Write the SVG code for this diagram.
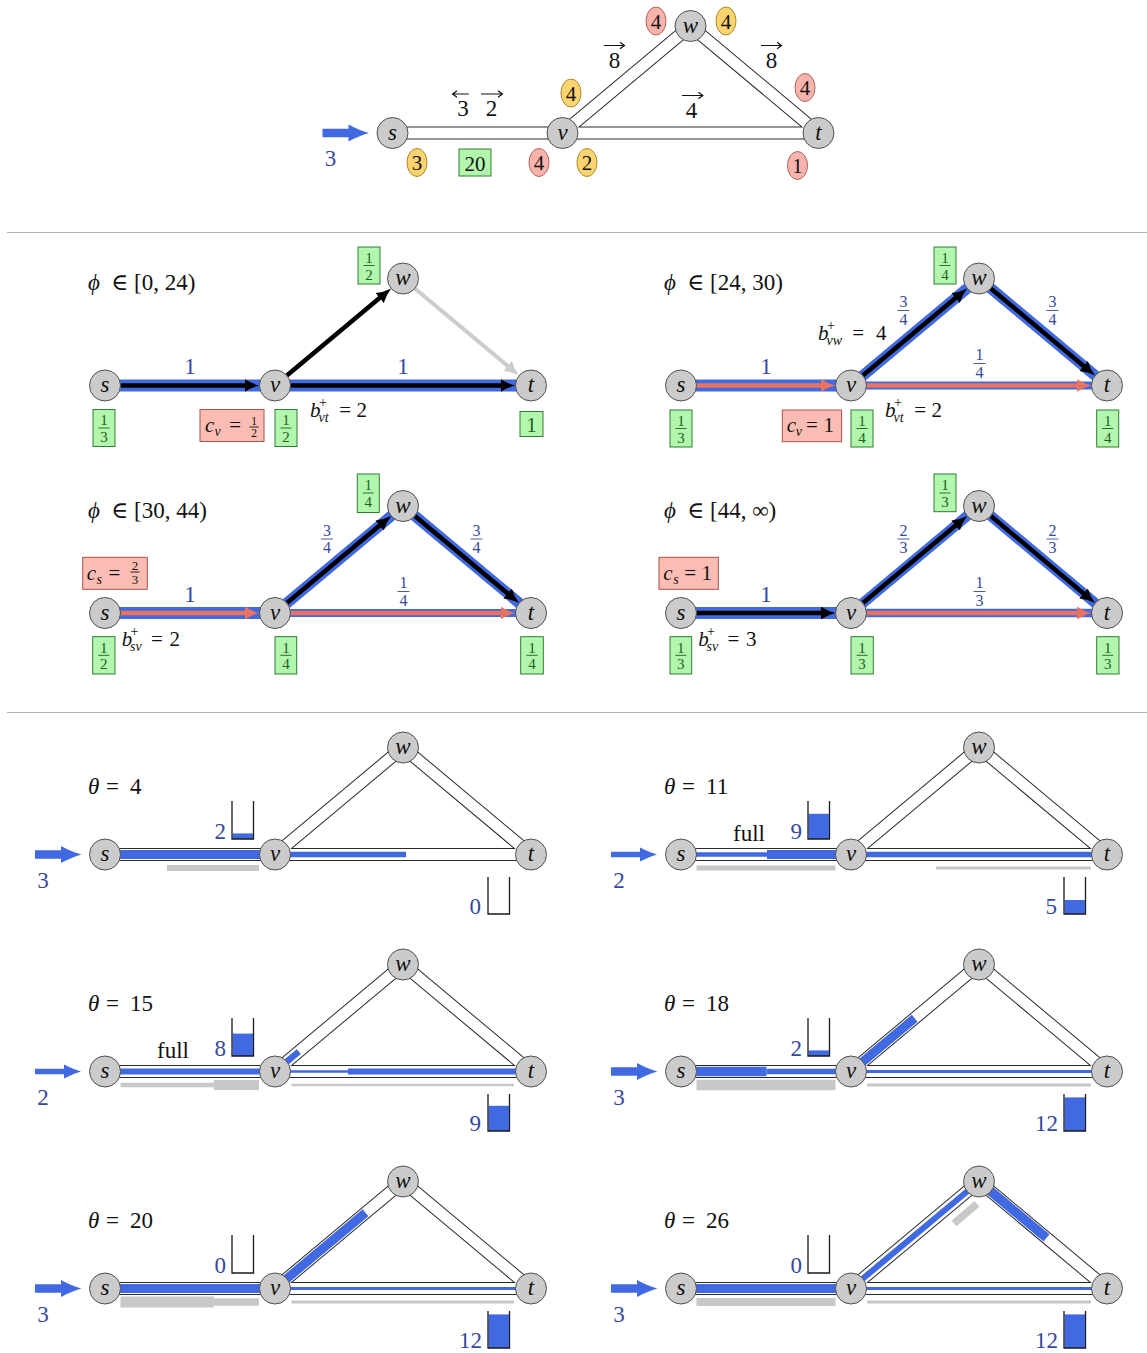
<svg xmlns="http://www.w3.org/2000/svg" width="1147" height="1353" viewBox="0 0 1147 1353">
<defs>
<style>
text{font-family:"Liberation Serif","DejaVu Serif",serif;fill:#111}
.node{fill:#cbcbcb;stroke:#505050;stroke-width:1}
.nl{font-style:italic;font-size:23px;text-anchor:middle}
.i{font-style:italic}
.eo{stroke:#2a2a2a;stroke-width:13;fill:none}
.ei{stroke:#fff;stroke-width:11;fill:none}
.bl{stroke:#4169e1;fill:none}
.gr{stroke:#c8c8c8;fill:none}
.k{stroke:#000;stroke-width:4.5;fill:none;marker-end:url(#ahk)}
.sa{stroke:#e9735f;stroke-width:4.5;fill:none;marker-end:url(#ahs)}
.ga{stroke:#cccccc;stroke-width:4;fill:none;marker-end:url(#ahg)}
.t23{font-size:23px}
.t21{font-size:21px}
.t14{font-size:14px}
.t13{font-size:13px}
.t11{font-size:11.5px}
.bt{fill:#34499e}
.mid{text-anchor:middle}
.end{text-anchor:end}
.gbox{fill:#b3f7ae;stroke:#2f7d32;stroke-width:1}
.gf{fill:#1d5e20;font-size:15px;text-anchor:middle}
.gbar{stroke:#1d5e20;stroke-width:0.9}
.bbar{stroke:#34499e;stroke-width:0.9}
.kbar{stroke:#111;stroke-width:0.9}
.ef{fill:#34499e;font-size:16px;text-anchor:middle}
.rbox{fill:#fbbdb3;stroke:#a8524b;stroke-width:1}
.yel{fill:#fdd470;stroke:#a98a27;stroke-width:1}
.red{fill:#f8b4ac;stroke:#b3625b;stroke-width:1}
.bk{fill:none;stroke:#1a1a1a;stroke-width:1.3}
.bfill{fill:#4169e1}
.sep{stroke:#b0b0b0;stroke-width:1}
.ov{fill:none;stroke:#111;stroke-width:1.2}
</style>
<marker id="ahk" markerUnits="userSpaceOnUse" markerWidth="16" markerHeight="14" viewBox="0 0 16 14" refX="5" refY="7" orient="auto"><path d="M0,0.5 Q7,5.2 15,7 Q7,8.8 0,13.5 Z" fill="#000"/></marker>
<marker id="ahs" markerUnits="userSpaceOnUse" markerWidth="16" markerHeight="14" viewBox="0 0 16 14" refX="5" refY="7" orient="auto"><path d="M0,0.5 Q7,5.2 15,7 Q7,8.8 0,13.5 Z" fill="#e9735f"/></marker>
<marker id="ahg" markerUnits="userSpaceOnUse" markerWidth="16" markerHeight="14" viewBox="0 0 16 14" refX="5" refY="7" orient="auto"><path d="M0,0.5 Q7,5.2 15,7 Q7,8.8 0,13.5 Z" fill="#cccccc"/></marker>
</defs>
<rect width="1147" height="1353" fill="#fff"/>

<line class="sep" x1="7" y1="232.5" x2="1147" y2="232.5"/>
<line class="sep" x1="7" y1="712.5" x2="1147" y2="712.5"/>

<!-- TOP -->
<g id="top" transform="translate(392.5,133)">
 <g id="top-connectors">
  <path class="eo" d="M0,0H170M170,0L298,-107M298,-107L426,0M170,0H426"/>
  <path class="ei" d="M0,0H170M170,0L298,-107M298,-107L426,0M170,0H426"/>
  <path class="bfill" d="M-70,-4.25H-44V-8.5Q-33,-2.5 -23.5,0Q-33,2.5 -44,8.5V4.25H-70Z"/>
 </g>
 <g id="top-s"><circle class="node" r="15.5"/><text class="nl" y="6.5">s</text></g>
 <g id="top-v"><circle class="node" cx="170" r="15.5"/><text class="nl" x="170" y="6.5">v</text></g>
 <g id="top-w"><circle class="node" cx="298" cy="-107" r="15.5"/><text class="nl" x="298" y="-100.5">w</text></g>
 <g id="top-t"><circle class="node" cx="426" r="15.5"/><text class="nl" x="426" y="6.5">t</text></g>
 <text class="t23 bt mid" x="-62" y="33">3</text>
 <text class="t23 mid" x="70.5" y="-17">3</text>
 <path class="ov" d="M76.3,-39H60.1M64.5,-42.3L60.1,-39L64.5,-35.7"/>
 <text class="t23 mid" x="99" y="-17">2</text>
 <path class="ov" d="M88.5,-39H109.9M105.5,-42.3L109.9,-39L105.5,-35.7"/>
 <text class="t23 mid" x="222" y="-65">8</text>
 <path class="ov" d="M211.3,-87.5H231.9M227.5,-90.8L231.9,-87.5L227.5,-84.2"/>
 <text class="t23 mid" x="379" y="-65">8</text>
 <path class="ov" d="M368.5,-87.5H389M384.6,-90.8L389,-87.5L384.6,-84.2"/>
 <text class="t23 mid" x="299" y="-15">4</text>
 <path class="ov" d="M289.5,-37.5H310.3M305.9,-40.8L310.3,-37.5L305.9,-34.2"/>
 <g id="top-anno">
  <ellipse class="yel" cx="24.5" cy="29.5" rx="10" ry="14"/><text class="t21 mid" x="24.5" y="37">3</text>
  <rect class="gbox" x="66.5" y="16" width="32" height="27"/><text class="t21 mid" x="82.5" y="37.5">20</text>
  <ellipse class="red" cx="146.5" cy="29.5" rx="10" ry="14"/><text class="t21 mid" x="146.5" y="37">4</text>
  <ellipse class="yel" cx="194.5" cy="29.5" rx="10" ry="14"/><text class="t21 mid" x="194.5" y="37">2</text>
  <ellipse class="red" cx="405" cy="32.5" rx="10" ry="14"/><text class="t21 mid" x="405" y="40">1</text>
  <ellipse class="yel" cx="178.5" cy="-40" rx="10" ry="14"/><text class="t21 mid" x="178.5" y="-32.5">4</text>
  <ellipse class="red" cx="263.5" cy="-112" rx="10" ry="14"/><text class="t21 mid" x="263.5" y="-104.5">4</text>
  <ellipse class="yel" cx="333.5" cy="-112" rx="10" ry="14"/><text class="t21 mid" x="333.5" y="-104.5">4</text>
  <ellipse class="red" cx="412.5" cy="-45.5" rx="10" ry="14"/><text class="t21 mid" x="412.5" y="-38">4</text>
 </g>
</g>

<!-- MIDDLE P1 -->
<g id="p1" transform="translate(105,385.5)">
 <text class="t23" x="-17" y="-95.5"><tspan class="i">&#x3D5;</tspan><tspan x="6">&#x2208;</tspan><tspan x="29">[0, 24)</tspan></text>
 <g id="p1-connectors">
  <path class="bl" stroke-width="12" d="M0,0H170M170,0H426"/>
  <path class="k" d="M15.5,0H144.5"/>
  <path class="k" d="M185.5,0H400.5"/>
  <path class="k" d="M181.89,-9.94L278.44,-90.65"/>
  <path class="ga" d="M309.89,-97.06L406.44,-16.35"/>
 </g>
 <g id="p1-s"><circle class="node" r="15.5"/><text class="nl" y="6.5">s</text></g>
 <g id="p1-v"><circle class="node" cx="170" r="15.5"/><text class="nl" x="170" y="6.5">v</text></g>
 <g id="p1-w"><circle class="node" cx="298" cy="-107" r="15.5"/><text class="nl" x="298" y="-100.5">w</text></g>
 <g id="p1-t"><circle class="node" cx="426" r="15.5"/><text class="nl" x="426" y="6.5">t</text></g>
 <text class="t23 bt mid" x="85" y="-12">1</text>
 <text class="t23 bt mid" x="298" y="-12">1</text>
 <rect class="gbox" x="253" y="-138.5" width="22" height="37"/><text class="gf"><tspan x="264" y="-122.8">1</tspan><tspan x="264" y="-106">2</tspan></text><line class="gbar" x1="258.5" y1="-120" x2="269.5" y2="-120"/>
 <rect class="gbox" x="-12" y="24" width="22" height="37"/><text class="gf"><tspan x="-1" y="39.7">1</tspan><tspan x="-1" y="56.5">3</tspan></text><line class="gbar" x1="-6.5" y1="42.5" x2="4.5" y2="42.5"/>
 <rect class="rbox" x="95" y="24" width="64" height="32"/>
 <text class="t21" x="100" y="46"><tspan class="i">c</tspan><tspan class="i t14" x="109.5" y="50">v</tspan><tspan x="124.3" y="46">=</tspan></text>
 <text class="t11 mid"><tspan x="149" y="39">1</tspan><tspan x="149" y="51">2</tspan></text>
 <line class="kbar" x1="144.5" y1="41.5" x2="153.5" y2="41.5"/>
 <rect class="gbox" x="170" y="24" width="22" height="37"/><text class="gf"><tspan x="181" y="39.7">1</tspan><tspan x="181" y="56.5">2</tspan></text><line class="gbar" x1="175.5" y1="42.5" x2="186.5" y2="42.5"/>
 <text class="t21" x="205" y="31"><tspan class="i">b</tspan><tspan class="t14" x="214" y="21">+</tspan><tspan class="i t14" x="213.5" y="36">vt</tspan><tspan x="234.3" y="31">=</tspan><tspan x="251.5" y="31">2</tspan></text>
 <rect class="gbox" x="415" y="26" width="23" height="25"/><text class="t21 mid" x="426.5" y="46" style="fill:#1d5e20">1</text>
</g>

<!-- MIDDLE P2 -->
<g id="p2" transform="translate(681,385.5)">
 <text class="t23" x="-17" y="-95.5"><tspan class="i">&#x3D5;</tspan><tspan x="6">&#x2208;</tspan><tspan x="29">[24, 30)</tspan></text>
 <g id="p2-connectors">
  <path class="bl" stroke-width="12" d="M0,0H170"/>
  <path class="bl" stroke-width="11" d="M170,0L298,-107L426,0"/>
  <path class="bl" stroke-width="8" d="M170,0H426"/>
  <path class="sa" d="M15.5,0H144.5"/>
  <path class="sa" d="M185.5,0H400.5"/>
  <path class="k" d="M181.89,-9.94L278.44,-90.65"/>
  <path class="k" d="M309.89,-97.06L406.44,-16.35"/>
 </g>
 <g id="p2-s"><circle class="node" r="15.5"/><text class="nl" y="6.5">s</text></g>
 <g id="p2-v"><circle class="node" cx="170" r="15.5"/><text class="nl" x="170" y="6.5">v</text></g>
 <g id="p2-w"><circle class="node" cx="298" cy="-107" r="15.5"/><text class="nl" x="298" y="-100.5">w</text></g>
 <g id="p2-t"><circle class="node" cx="426" r="15.5"/><text class="nl" x="426" y="6.5">t</text></g>
 <text class="t23 bt mid" x="85" y="-12">1</text>
 <text class="ef"><tspan x="222.5" y="-78.5">3</tspan><tspan x="222.5" y="-61">4</tspan></text><line class="bbar" x1="216.5" y1="-75" x2="228.5" y2="-75"/>
 <text class="ef"><tspan x="371.5" y="-78.5">3</tspan><tspan x="371.5" y="-61">4</tspan></text><line class="bbar" x1="365.5" y1="-75" x2="377.5" y2="-75"/>
 <text class="ef"><tspan x="298.5" y="-25.5">1</tspan><tspan x="298.5" y="-8">4</tspan></text><line class="bbar" x1="292.5" y1="-22" x2="304.5" y2="-22"/>
 <text class="t21" x="137" y="-46"><tspan class="i">b</tspan><tspan class="t14" x="146" y="-56">+</tspan><tspan class="i t14" x="145.5" y="-40.5">vw</tspan><tspan x="171.3" y="-46">=</tspan><tspan x="195" y="-46">4</tspan></text>
 <rect class="gbox" x="253" y="-138.5" width="22" height="37"/><text class="gf"><tspan x="264" y="-122.8">1</tspan><tspan x="264" y="-106">4</tspan></text><line class="gbar" x1="258.5" y1="-120" x2="269.5" y2="-120"/>
 <rect class="gbox" x="-11" y="24.5" width="22" height="37"/><text class="gf"><tspan x="0" y="40.2">1</tspan><tspan x="0" y="57">3</tspan></text><line class="gbar" x1="-5.5" y1="43" x2="5.5" y2="43"/>
 <rect class="rbox" x="101.3" y="24.5" width="59.3" height="31.7"/>
 <text class="t21" x="105.7" y="46.5"><tspan class="i">c</tspan><tspan class="i t14" x="114.7" y="50.5">v</tspan><tspan x="125" y="46.5">=</tspan><tspan x="142.5" y="46.5">1</tspan></text>
 <rect class="gbox" x="170" y="24.5" width="22" height="37"/><text class="gf"><tspan x="181" y="40.2">1</tspan><tspan x="181" y="57">4</tspan></text><line class="gbar" x1="175.5" y1="43" x2="186.5" y2="43"/>
 <text class="t21" x="204" y="31"><tspan class="i">b</tspan><tspan class="t14" x="213" y="21">+</tspan><tspan class="i t14" x="212.5" y="36">vt</tspan><tspan x="233.3" y="31">=</tspan><tspan x="250.5" y="31">2</tspan></text>
 <rect class="gbox" x="415.7" y="24.5" width="22" height="37"/><text class="gf"><tspan x="426.7" y="40.2">1</tspan><tspan x="426.7" y="57">4</tspan></text><line class="gbar" x1="421.2" y1="43" x2="432.2" y2="43"/>
</g>

<!-- MIDDLE P3 -->
<g id="p3" transform="translate(105,613)">
 <text class="t23" x="-17" y="-95.5"><tspan class="i">&#x3D5;</tspan><tspan x="6">&#x2208;</tspan><tspan x="29">[30, 44)</tspan></text>
 <g id="p3-connectors">
  <path class="bl" stroke-width="12" d="M0,0H170"/>
  <path class="bl" stroke-width="11" d="M170,0L298,-107L426,0"/>
  <path class="bl" stroke-width="8" d="M170,0H426"/>
  <path class="sa" d="M15.5,0H144.5"/>
  <path class="sa" d="M185.5,0H400.5"/>
  <path class="k" d="M181.89,-9.94L278.44,-90.65"/>
  <path class="k" d="M309.89,-97.06L406.44,-16.35"/>
 </g>
 <g id="p3-s"><circle class="node" r="15.5"/><text class="nl" y="6.5">s</text></g>
 <g id="p3-v"><circle class="node" cx="170" r="15.5"/><text class="nl" x="170" y="6.5">v</text></g>
 <g id="p3-w"><circle class="node" cx="298" cy="-107" r="15.5"/><text class="nl" x="298" y="-100.5">w</text></g>
 <g id="p3-t"><circle class="node" cx="426" r="15.5"/><text class="nl" x="426" y="6.5">t</text></g>
 <rect class="rbox" x="-22.3" y="-55.7" width="64.6" height="32"/>
 <text class="t21" x="-18.3" y="-33"><tspan class="i">c</tspan><tspan class="i t14" x="-8.6" y="-29.5">s</tspan><tspan x="3.6" y="-33">=</tspan><tspan class="t13" x="26.75" y="-43">2</tspan><tspan class="t13" x="26.75" y="-29.5">3</tspan></text>
 <line class="kbar" x1="25.5" y1="-41" x2="34.5" y2="-41"/>
 <text class="t23 bt mid" x="85" y="-11">1</text>
 <text class="ef"><tspan x="222" y="-77.5">3</tspan><tspan x="222" y="-60">4</tspan></text><line class="bbar" x1="216" y1="-74" x2="228" y2="-74"/>
 <text class="ef"><tspan x="371.5" y="-77.5">3</tspan><tspan x="371.5" y="-60">4</tspan></text><line class="bbar" x1="365.5" y1="-74" x2="377.5" y2="-74"/>
 <text class="ef"><tspan x="298.5" y="-25">1</tspan><tspan x="298.5" y="-7.5">4</tspan></text><line class="bbar" x1="292.5" y1="-21.5" x2="304.5" y2="-21.5"/>
 <rect class="gbox" x="252.3" y="-139" width="22" height="38.5"/><text class="gf"><tspan x="263.3" y="-122.8">1</tspan><tspan x="263.3" y="-106">4</tspan></text><line class="gbar" x1="257.8" y1="-120" x2="268.8" y2="-120"/>
 <rect class="gbox" x="-12.3" y="23.7" width="22.3" height="37.3"/><text class="gf"><tspan x="-1.2" y="39.5">1</tspan><tspan x="-1.2" y="56.3">2</tspan></text><line class="gbar" x1="-6.7" y1="42.3" x2="4.3" y2="42.3"/>
 <text class="t21" x="16.7" y="33"><tspan class="i">b</tspan><tspan class="t14" x="25.5" y="23">+</tspan><tspan class="i t14" x="25" y="38">sv</tspan><tspan x="46" y="33">=</tspan><tspan x="64.5" y="33">2</tspan></text>
 <rect class="gbox" x="170" y="23.7" width="21.7" height="37.3"/><text class="gf"><tspan x="180.9" y="39.5">1</tspan><tspan x="180.9" y="56.3">4</tspan></text><line class="gbar" x1="175.4" y1="42.3" x2="186.4" y2="42.3"/>
 <rect class="gbox" x="415.7" y="23.7" width="22.6" height="37.3"/><text class="gf"><tspan x="427" y="39.5">1</tspan><tspan x="427" y="56.3">4</tspan></text><line class="gbar" x1="421.5" y1="42.3" x2="432.5" y2="42.3"/>
</g>

<!-- MIDDLE P4 -->
<g id="p4" transform="translate(681,613)">
 <text class="t23" x="-17" y="-95.5"><tspan class="i">&#x3D5;</tspan><tspan x="6">&#x2208;</tspan><tspan x="29">[44, &#x221E;)</tspan></text>
 <g id="p4-connectors">
  <path class="bl" stroke-width="12" d="M0,0H170"/>
  <path class="bl" stroke-width="10.5" d="M170,0L298,-107L426,0"/>
  <path class="bl" stroke-width="8.5" d="M170,0H426"/>
  <path class="k" d="M15.5,0H144.5"/>
  <path class="sa" d="M185.5,0H400.5"/>
  <path class="k" d="M181.89,-9.94L278.44,-90.65"/>
  <path class="k" d="M309.89,-97.06L406.44,-16.35"/>
 </g>
 <g id="p4-s"><circle class="node" r="15.5"/><text class="nl" y="6.5">s</text></g>
 <g id="p4-v"><circle class="node" cx="170" r="15.5"/><text class="nl" x="170" y="6.5">v</text></g>
 <g id="p4-w"><circle class="node" cx="298" cy="-107" r="15.5"/><text class="nl" x="298" y="-100.5">w</text></g>
 <g id="p4-t"><circle class="node" cx="426" r="15.5"/><text class="nl" x="426" y="6.5">t</text></g>
 <rect class="rbox" x="-22" y="-55.7" width="59.3" height="32"/>
 <text class="t21" x="-17.7" y="-33"><tspan class="i">c</tspan><tspan class="i t14" x="-7.8" y="-29.5">s</tspan><tspan x="3.3" y="-33">=</tspan><tspan x="20.5" y="-33">1</tspan></text>
 <text class="t23 bt mid" x="85" y="-11">1</text>
 <text class="ef"><tspan x="222.5" y="-77.5">2</tspan><tspan x="222.5" y="-60">3</tspan></text><line class="bbar" x1="216.5" y1="-74" x2="228.5" y2="-74"/>
 <text class="ef"><tspan x="371.5" y="-77.5">2</tspan><tspan x="371.5" y="-60">3</tspan></text><line class="bbar" x1="365.5" y1="-74" x2="377.5" y2="-74"/>
 <text class="ef"><tspan x="298.5" y="-25">1</tspan><tspan x="298.5" y="-7.5">3</tspan></text><line class="bbar" x1="292.5" y1="-21.5" x2="304.5" y2="-21.5"/>
 <rect class="gbox" x="253" y="-139" width="22" height="37.7"/><text class="gf"><tspan x="264" y="-122.8">1</tspan><tspan x="264" y="-106">3</tspan></text><line class="gbar" x1="258.5" y1="-120" x2="269.5" y2="-120"/>
 <rect class="gbox" x="-11" y="23.7" width="21.7" height="37.3"/><text class="gf"><tspan x="-0.2" y="39.5">1</tspan><tspan x="-0.2" y="56.3">3</tspan></text><line class="gbar" x1="-5.7" y1="42.3" x2="5.3" y2="42.3"/>
 <text class="t21" x="17.3" y="33"><tspan class="i">b</tspan><tspan class="t14" x="26" y="23">+</tspan><tspan class="i t14" x="25.5" y="38">sv</tspan><tspan x="46.5" y="33">=</tspan><tspan x="65" y="33">3</tspan></text>
 <rect class="gbox" x="170" y="23.7" width="22.3" height="37.3"/><text class="gf"><tspan x="181.1" y="39.5">1</tspan><tspan x="181.1" y="56.3">3</tspan></text><line class="gbar" x1="175.6" y1="42.3" x2="186.6" y2="42.3"/>
 <rect class="gbox" x="415.7" y="23.7" width="22.3" height="37.3"/><text class="gf"><tspan x="426.8" y="39.5">1</tspan><tspan x="426.8" y="56.3">3</tspan></text><line class="gbar" x1="421.3" y1="42.3" x2="432.3" y2="42.3"/>
</g>

<!-- BOTTOM theta=4 -->
<g id="b1" transform="translate(105,854.5)">
 <text class="t23" x="-17" y="-61"><tspan class="i">&#x3B8;</tspan><tspan x="1">=</tspan><tspan x="25">4</tspan></text>
 <g id="b1-connectors">
  <path class="eo" d="M0,0H170M170,0L298,-107M298,-107L426,0M170,0H426"/>
  <path class="ei" d="M0,0H170M170,0L298,-107M298,-107L426,0M170,0H426"/>
  <path class="bl" stroke-width="9" d="M0,0H170"/>
  <path class="bl" stroke-width="5.5" d="M170,0H301"/>
  <path class="gr" stroke-width="6" d="M62,13.5H154"/>
  <path class="bfill" d="M-70,-4.25H-44V-8.5Q-33,-2.5 -23.5,0Q-33,2.5 -44,8.5V4.25H-70Z"/>
 </g>
 <g id="b1-s"><circle class="node" r="15.5"/><text class="nl" y="6.5">s</text></g>
 <g id="b1-v"><circle class="node" cx="170" r="15.5"/><text class="nl" x="170" y="6.5">v</text></g>
 <g id="b1-w"><circle class="node" cx="298" cy="-107" r="15.5"/><text class="nl" x="298" y="-100.5">w</text></g>
 <g id="b1-t"><circle class="node" cx="426" r="15.5"/><text class="nl" x="426" y="6.5">t</text></g>
 <text class="t23 bt mid" x="-62" y="33">3</text>
 <rect class="bfill" x="127.6" y="-21.1" width="20.3" height="5.6"/><path class="bk" d="M127,-53.5V-15.5H148.5V-53.5"/><text class="t23 bt end" x="121" y="-15.5">2</text>
 <path class="bk" d="M383,22.5V59.5H404.5V22.5"/><text class="t23 bt end" x="376" y="59">0</text>
</g>

<!-- BOTTOM theta=11 -->
<g id="b2" transform="translate(681,854.5)">
 <text class="t23" x="-17" y="-61"><tspan class="i">&#x3B8;</tspan><tspan x="1">=</tspan><tspan x="25">11</tspan></text>
 <g id="b2-connectors">
  <path class="eo" d="M0,0H170M170,0L298,-107M298,-107L426,0M170,0H426"/>
  <path class="ei" d="M0,0H170M170,0L298,-107M298,-107L426,0M170,0H426"/>
  <path class="bl" stroke-width="4.5" d="M0,0H86"/>
  <path class="bl" stroke-width="9" d="M86,0H170"/>
  <path class="bl" stroke-width="5.5" d="M170,0H426"/>
  <path class="gr" stroke-width="5" d="M15.5,13.5H154.5"/>
  <path class="gr" stroke-width="3" d="M255,13.5H410"/>
  <path class="bfill" d="M-70,-2.75H-41V-7Q-31,-2 -24,0Q-31,2 -41,7V2.75H-70Z"/>
 </g>
 <g id="b2-s"><circle class="node" r="15.5"/><text class="nl" y="6.5">s</text></g>
 <g id="b2-v"><circle class="node" cx="170" r="15.5"/><text class="nl" x="170" y="6.5">v</text></g>
 <g id="b2-w"><circle class="node" cx="298" cy="-107" r="15.5"/><text class="nl" x="298" y="-100.5">w</text></g>
 <g id="b2-t"><circle class="node" cx="426" r="15.5"/><text class="nl" x="426" y="6.5">t</text></g>
 <text class="t23 bt mid" x="-62" y="33">2</text>
 <text class="t23" x="52" y="-14">full</text>
 <rect class="bfill" x="127.6" y="-40.7" width="20.3" height="25.2"/><path class="bk" d="M127,-53.5V-15.5H148.5V-53.5"/><text class="t23 bt end" x="121" y="-15.5">9</text>
 <rect class="bfill" x="383.6" y="45.5" width="20.3" height="14"/><path class="bk" d="M383,22.5V59.5H404.5V22.5"/><text class="t23 bt end" x="376" y="59">5</text>
</g>

<!-- BOTTOM theta=15 -->
<g id="b3" transform="translate(105,1071.5)">
 <text class="t23" x="-17" y="-61"><tspan class="i">&#x3B8;</tspan><tspan x="1">=</tspan><tspan x="25">15</tspan></text>
 <g id="b3-connectors">
  <path class="eo" d="M0,0H170M170,0L298,-107M298,-107L426,0M170,0H426"/>
  <path class="ei" d="M0,0H170M170,0L298,-107M298,-107L426,0M170,0H426"/>
  <path class="bl" stroke-width="6" d="M0,0H170"/>
  <path class="bl" stroke-width="6.5" d="M170,0L193.78,-19.88"/>
  <path class="bl" stroke-width="2.4" d="M170,0H243"/>
  <path class="bl" stroke-width="6" d="M243,0H426"/>
  <path class="gr" stroke-width="4.4" d="M15.5,13.5H108.8"/>
  <path class="gr" stroke-width="10" d="M108.8,13.5H154"/>
  <path class="gr" stroke-width="2.7" d="M186.4,13.5H409"/>
  <path class="bfill" d="M-70,-2.75H-41V-7Q-31,-2 -24,0Q-31,2 -41,7V2.75H-70Z"/>
 </g>
 <g id="b3-s"><circle class="node" r="15.5"/><text class="nl" y="6.5">s</text></g>
 <g id="b3-v"><circle class="node" cx="170" r="15.5"/><text class="nl" x="170" y="6.5">v</text></g>
 <g id="b3-w"><circle class="node" cx="298" cy="-107" r="15.5"/><text class="nl" x="298" y="-100.5">w</text></g>
 <g id="b3-t"><circle class="node" cx="426" r="15.5"/><text class="nl" x="426" y="6.5">t</text></g>
 <text class="t23 bt mid" x="-62" y="33">2</text>
 <text class="t23" x="52" y="-14">full</text>
 <rect class="bfill" x="127.6" y="-37.9" width="20.3" height="22.4"/><path class="bk" d="M127,-53.5V-15.5H148.5V-53.5"/><text class="t23 bt end" x="121" y="-15.5">8</text>
 <rect class="bfill" x="383.6" y="34.3" width="20.3" height="25.2"/><path class="bk" d="M383,22.5V59.5H404.5V22.5"/><text class="t23 bt end" x="376" y="59">9</text>
</g>

<!-- BOTTOM theta=18 -->
<g id="b4" transform="translate(681,1071.5)">
 <text class="t23" x="-17" y="-61"><tspan class="i">&#x3B8;</tspan><tspan x="1">=</tspan><tspan x="25">18</tspan></text>
 <g id="b4-connectors">
  <path class="eo" d="M0,0H170M170,0L298,-107M298,-107L426,0M170,0H426"/>
  <path class="ei" d="M0,0H170M170,0L298,-107M298,-107L426,0M170,0H426"/>
  <path class="bl" stroke-width="9.3" d="M0,0H85.4"/>
  <path class="bl" stroke-width="5.5" d="M85.4,0H170"/>
  <path class="bl" stroke-width="9" d="M170,0L233.68,-53.24"/>
  <path class="bl" stroke-width="3.2" d="M170,0H426"/>
  <path class="gr" stroke-width="10.5" d="M15.5,13.5H154.5"/>
  <path class="gr" stroke-width="3.2" d="M186,13.5H410"/>
  <path class="bfill" d="M-70,-4.25H-44V-8.5Q-33,-2.5 -23.5,0Q-33,2.5 -44,8.5V4.25H-70Z"/>
 </g>
 <g id="b4-s"><circle class="node" r="15.5"/><text class="nl" y="6.5">s</text></g>
 <g id="b4-v"><circle class="node" cx="170" r="15.5"/><text class="nl" x="170" y="6.5">v</text></g>
 <g id="b4-w"><circle class="node" cx="298" cy="-107" r="15.5"/><text class="nl" x="298" y="-100.5">w</text></g>
 <g id="b4-t"><circle class="node" cx="426" r="15.5"/><text class="nl" x="426" y="6.5">t</text></g>
 <text class="t23 bt mid" x="-62" y="33">3</text>
 <rect class="bfill" x="127.6" y="-21.1" width="20.3" height="5.6"/><path class="bk" d="M127,-53.5V-15.5H148.5V-53.5"/><text class="t23 bt end" x="121" y="-15.5">2</text>
 <rect class="bfill" x="383.6" y="25.9" width="20.3" height="33.6"/><path class="bk" d="M383,22.5V59.5H404.5V22.5"/><text class="t23 bt end" x="377" y="59">12</text>
</g>

<!-- BOTTOM theta=20 -->
<g id="b5" transform="translate(105,1288.5)">
 <text class="t23" x="-17" y="-61"><tspan class="i">&#x3B8;</tspan><tspan x="1">=</tspan><tspan x="25">20</tspan></text>
 <g id="b5-connectors">
  <path class="eo" d="M0,0H170M170,0L298,-107M298,-107L426,0M170,0H426"/>
  <path class="ei" d="M0,0H170M170,0L298,-107M298,-107L426,0M170,0H426"/>
  <path class="bl" stroke-width="9" d="M0,0H170"/>
  <path class="bl" stroke-width="9" d="M170,0L260.53,-75.69"/>
  <path class="bl" stroke-width="3.2" d="M170,0H426"/>
  <path class="gr" stroke-width="11" d="M15.5,13.5H108.8"/>
  <path class="gr" stroke-width="7.4" d="M108.8,13.5H154"/>
  <path class="gr" stroke-width="3.2" d="M186.4,13.5H409"/>
  <path class="bfill" d="M-70,-4.25H-44V-8.5Q-33,-2.5 -23.5,0Q-33,2.5 -44,8.5V4.25H-70Z"/>
 </g>
 <g id="b5-s"><circle class="node" r="15.5"/><text class="nl" y="6.5">s</text></g>
 <g id="b5-v"><circle class="node" cx="170" r="15.5"/><text class="nl" x="170" y="6.5">v</text></g>
 <g id="b5-w"><circle class="node" cx="298" cy="-107" r="15.5"/><text class="nl" x="298" y="-100.5">w</text></g>
 <g id="b5-t"><circle class="node" cx="426" r="15.5"/><text class="nl" x="426" y="6.5">t</text></g>
 <text class="t23 bt mid" x="-62" y="33">3</text>
 <path class="bk" d="M127,-53.5V-15.5H148.5V-53.5"/><text class="t23 bt end" x="121" y="-15.5">0</text>
 <rect class="bfill" x="383.6" y="25.9" width="20.3" height="33.6"/><path class="bk" d="M383,22.5V59.5H404.5V22.5"/><text class="t23 bt end" x="377" y="59">12</text>
</g>

<!-- BOTTOM theta=26 -->
<g id="b6" transform="translate(681,1288.5)">
 <text class="t23" x="-17" y="-61"><tspan class="i">&#x3B8;</tspan><tspan x="1">=</tspan><tspan x="25">26</tspan></text>
 <g id="b6-connectors">
  <path class="eo" d="M0,0H170M170,0L298,-107M298,-107L426,0M170,0H426"/>
  <path class="ei" d="M0,0H170M170,0L298,-107M298,-107L426,0M170,0H426"/>
  <path class="bl" stroke-width="9" d="M0,0H170"/>
  <path class="bl" stroke-width="6" d="M170,0L298,-107"/>
  <path class="bl" stroke-width="9.5" d="M298,-107L365.51,-50.56"/>
  <path class="bl" stroke-width="3.2" d="M170,0H426"/>
  <path class="gr" stroke-width="8" d="M15.5,13.5H154.5"/>
  <path class="gr" stroke-width="3.2" d="M186,13.5H410"/>
  <path class="gr" stroke-width="7.5" d="M296,-84.5L273,-65.2"/>
  <path class="bfill" d="M-70,-4.25H-44V-8.5Q-33,-2.5 -23.5,0Q-33,2.5 -44,8.5V4.25H-70Z"/>
 </g>
 <g id="b6-s"><circle class="node" r="15.5"/><text class="nl" y="6.5">s</text></g>
 <g id="b6-v"><circle class="node" cx="170" r="15.5"/><text class="nl" x="170" y="6.5">v</text></g>
 <g id="b6-w"><circle class="node" cx="298" cy="-107" r="15.5"/><text class="nl" x="298" y="-100.5">w</text></g>
 <g id="b6-t"><circle class="node" cx="426" r="15.5"/><text class="nl" x="426" y="6.5">t</text></g>
 <text class="t23 bt mid" x="-62" y="33">3</text>
 <path class="bk" d="M127,-53.5V-15.5H148.5V-53.5"/><text class="t23 bt end" x="121" y="-15.5">0</text>
 <rect class="bfill" x="383.6" y="25.9" width="20.3" height="33.6"/><path class="bk" d="M383,22.5V59.5H404.5V22.5"/><text class="t23 bt end" x="377" y="59">12</text>
</g>
</svg>
